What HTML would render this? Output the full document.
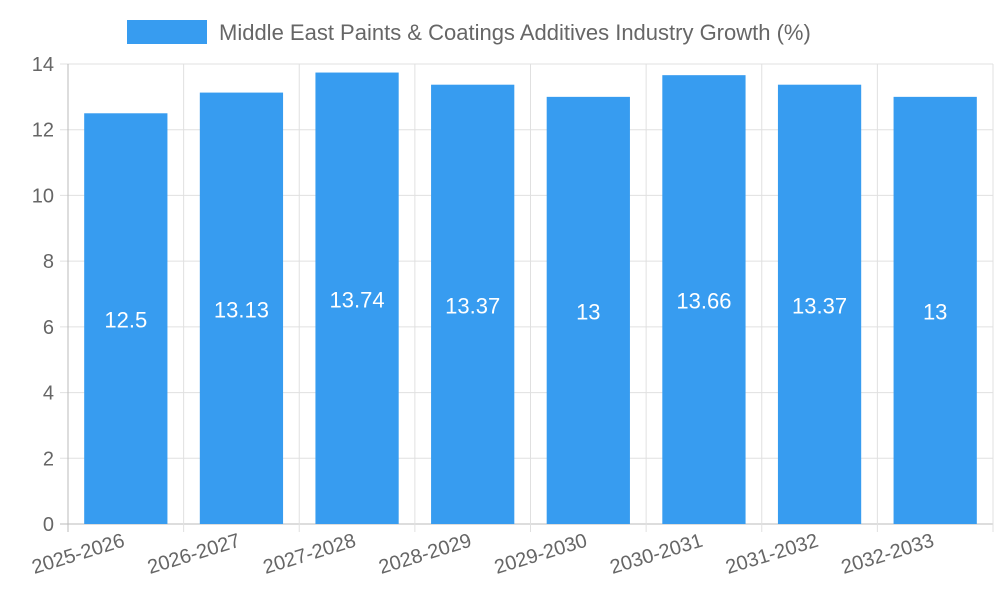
<!DOCTYPE html>
<html><head><meta charset="utf-8"><style>
body{margin:0;background:#fff;font-family:"Liberation Sans",sans-serif}
svg text{font-family:"Liberation Sans",sans-serif}
</style></head><body>
<svg id="chart" width="1000" height="600">
<g>
<rect x="127" y="20" width="80" height="24" fill="#379cf0"/>
<text x="219" y="40" font-size="22" fill="#666">Middle East Paints &amp; Coatings Additives Industry Growth (%)</text>
</g>
<g id="grid"></g><g id="bars"></g><g id="labels"></g>
</svg>
<script>
const categories=["2025-2026","2026-2027","2027-2028","2028-2029","2029-2030","2030-2031","2031-2032","2032-2033"];
const values=[12.5,13.13,13.74,13.37,13,13.66,13.37,13];
const yTicks=[0,2,4,6,8,10,12,14];
const L=68,R=993,T=64,B=524,yMax=14;
const y=v=>B-(v/yMax)*(B-T);
const cw=(R-L)/categories.length;
const x=i=>L+i*cw;
const ns="http://www.w3.org/2000/svg";
function mk(t,a,p){const e=document.createElementNS(ns,t);for(const k in a)e.setAttribute(k,a[k]);p.appendChild(e);return e;}
const g=document.getElementById('grid'),bg=document.getElementById('bars'),lg=document.getElementById('labels');
yTicks.forEach(v=>{
 const ln=mk('line',{x1:L-8,x2:R,y1:y(v),y2:y(v),stroke:v===0?'#bbb':'#e0e0e0','stroke-width':1},g);
 
 
 const t=mk('text',{x:L-14,y:y(v)+7,'text-anchor':'end','font-size':20,fill:'#666'},g);
 t.textContent=v;
 
 
});
for(let i=0;i<=categories.length;i++){
 const ln=mk('line',{x1:x(i),x2:x(i),y1:T,y2:B+8,stroke:i===0?'#bbb':'#e0e0e0','stroke-width':1},g);
 
 
}
categories.forEach((c,i)=>{
 const bw=cw*0.72,bx=x(i)+(cw-bw)/2,cx=x(i)+cw/2;
 const r=mk('rect',{x:bx,y:y(values[i]),width:bw,height:B-y(values[i]),fill:'#379cf0'},bg);
 
 
 const v=mk('text',{x:cx,y:(y(values[i])+B)/2+9,'text-anchor':'middle','font-size':22,fill:'#fff'},lg);
 v.textContent=values[i];
 
 
 const t=mk('text',{x:cx,y:B+22,'text-anchor':'end','font-size':20,fill:'#666',transform:`rotate(-17 ${cx} ${B+22})`},lg);
 t.textContent=c;
 
 
});
</script>
</body></html>
